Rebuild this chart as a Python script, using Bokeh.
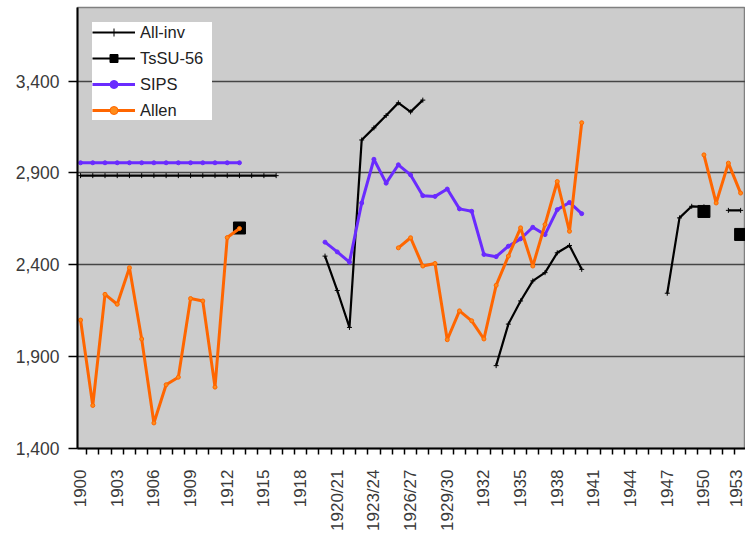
import math
import numpy as np
from bokeh.plotting import figure
from bokeh.models import FixedTicker, NumeralTickFormatter, Legend, LegendItem, ColumnDataSource
from bokeh.embed import file_html
from bokeh.resources import INLINE

# ---------------- data ----------------
categories = ([str(y) for y in range(1900, 1921)]
              + ["1920/21", "1921/22", "1922/23", "1923/24", "1924/25",
                 "1925/26", "1926/27", "1927/28", "1928/29", "1929/30"]
              + [str(y) for y in range(1930, 1955)])

N = None
all_inv = [2885, 2885, 2885, 2885, 2885, 2885, 2885, 2885, 2885, 2885,
           2885, 2885, 2885, 2885, 2885, 2885, 2885, N, N, N,
           2447, 2260, 2059, 3079, 3145, 3212, 3281, 3232, 3296, N,
           N, N, N, N, 1851, 2077, 2203, 2312, 2357, 2465,
           2505, 2375, N, N, N, N, N, N, 2245, 2655,
           2718, 2715, N, 2696, 2696]

tssu_56 = [N, N, N, N, N, N, N, N, N, N,
           N, N, N, 2600, N, N, N, N, N, N,
           N, N, N, N, N, N, N, N, N, N,
           N, N, N, N, N, N, N, N, N, N,
           N, N, N, N, N, N, N, N, N, N,
           N, 2690, N, N, 2565]

sips = [2955, 2955, 2955, 2955, 2955, 2955, 2955, 2955, 2955, 2955,
        2955, 2955, 2955, 2955, N, N, N, N, N, N,
        2523, 2470, 2414, 2736, 2974, 2844, 2944, 2889, 2776, 2772,
        2812, 2704, 2691, 2456, 2444, 2501, 2541, 2604, 2564, 2700,
        2739, 2678, N, N, N, N, N, N, N, N,
        N, N, N, N, N]

allen = [2099, 1634, 2239, 2185, 2384, 1996, 1539, 1747, 1788, 2216,
         2203, 1734, 2548, 2597, N, N, N, N, N, N,
         N, N, N, N, N, N, 2492, 2547, 2393, 2407,
         1992, 2149, 2095, 1996, 2288, 2447, 2601, 2393, 2619, 2853,
         2582, 3173, N, N, N, N, N, N, N, N,
         N, 2998, 2736, 2953, 2790]

y_ticks = [1400, 1900, 2400, 2900, 3400]

# ---------------- figure ----------------
def arr(v):
    return np.array([np.nan if a is None else a for a in v], dtype=float)

x = np.arange(len(categories), dtype=float)

p = figure(width=745, height=533, x_range=(-0.25, 54.4), y_range=(1400, 3800),
           output_backend="svg", toolbar_location=None,
           min_border_left=77, min_border_right=0, min_border_top=7,
           min_border_bottom=83)

p.background_fill_color = "#cccccc"
p.border_fill_color = "white"
p.outline_line_color = "#808080"
p.outline_line_width = 1.5

FONT = "Liberation Sans"

# y axis
p.yaxis.ticker = FixedTicker(ticks=y_ticks)
p.yaxis.formatter = NumeralTickFormatter(format="0,0")
p.yaxis.major_tick_out = 9
p.yaxis.major_tick_in = 0
p.yaxis.minor_tick_line_color = None
p.yaxis.axis_line_color = "black"
p.yaxis.axis_line_width = 2
p.yaxis.major_tick_line_width = 1.5
p.yaxis.major_label_text_font = FONT
p.yaxis.major_label_text_font_size = "17.5px"
p.yaxis.major_label_text_color = "#3a3a3a"
p.yaxis.major_label_standoff = 9

# x axis
idx = list(range(len(categories)))
p.xaxis.ticker = FixedTicker(ticks=idx[::3],
                             minor_ticks=[i + 0.5 for i in idx])
p.xaxis.major_label_overrides = {i: categories[i] for i in idx[::3]}
p.xaxis.major_label_orientation = math.pi / 2
p.xaxis.major_tick_out = 0
p.xaxis.major_tick_in = 0
p.xaxis.minor_tick_out = 6
p.xaxis.minor_tick_in = 0
p.xaxis.minor_tick_line_width = 1.5
p.xaxis.minor_tick_line_color = "black"
p.xaxis.axis_line_color = "black"
p.xaxis.axis_line_width = 2
p.xaxis.major_label_text_font = FONT
p.xaxis.major_label_text_font_size = "17px"
p.xaxis.major_label_text_color = "#3a3a3a"
p.xaxis.major_label_standoff = 15

# grid
p.xgrid.grid_line_color = None
p.ygrid.ticker = FixedTicker(ticks=y_ticks)
p.ygrid.grid_line_color = "#454545"
p.ygrid.grid_line_width = 1.7

# series
src = ColumnDataSource(dict(x=x, all_inv=arr(all_inv), tssu=arr(tssu_56),
                            sips=arr(sips), allen=arr(allen)))

r1l = p.line("x", "all_inv", source=src, line_color="black", line_width=2.2)
r1m = p.scatter("x", "all_inv", source=src, marker="cross", size=5,
                line_color="black", line_width=1)

r2l = p.line("x", "tssu", source=src, line_color="black", line_width=2.2)
r2m = p.scatter("x", "tssu", source=src, marker="square", size=12,
                fill_color="black", line_color="black")

r3l = p.line("x", "sips", source=src, line_color="#6a2bff", line_width=3)
r3m = p.scatter("x", "sips", source=src, marker="circle", size=4,
                fill_color="#6a2bff", line_color="#6a2bff")

r4l = p.line("x", "allen", source=src, line_color="#ff6600", line_width=3)
r4m = p.scatter("x", "allen", source=src, marker="circle", size=4,
                fill_color="#ff8c1a", line_color="#ff6600")

legend = Legend(items=[
    LegendItem(label="All-inv", renderers=[r1l, r1m]),
    LegendItem(label="TsSU-56", renderers=[r2l, r2m]),
    LegendItem(label="SIPS", renderers=[r3l, r3m]),
    LegendItem(label="Allen", renderers=[r4l, r4m]),
])
legend.location = "top_left"
legend.margin = 15
legend.background_fill_color = "white"
legend.background_fill_alpha = 1
legend.border_line_color = None
legend.label_text_font = FONT
legend.label_text_font_size = "16.5px"
legend.label_text_color = "#222222"
legend.glyph_width = 43
legend.glyph_height = 20
legend.label_height = 20
legend.label_width = 72
legend.spacing = 6
legend.padding = 5
legend.label_standoff = 5
p.add_layout(legend)

open("out.html", "w").write(file_html(p, INLINE))
